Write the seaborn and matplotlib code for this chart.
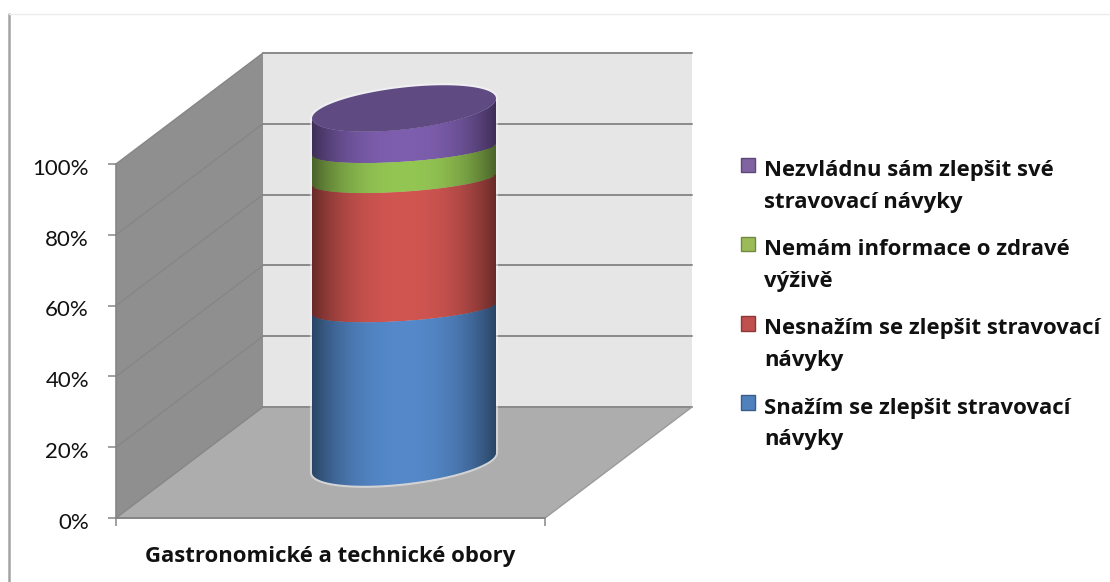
import numpy as np
import pandas as pd
import matplotlib
matplotlib.use("Agg")
import matplotlib.pyplot as plt
from matplotlib.patches import Polygon, Patch, Rectangle
from matplotlib.lines import Line2D
from matplotlib.path import Path
from matplotlib.legend_handler import HandlerPatch
from matplotlib.transforms import ScaledTranslation
import seaborn as sns

# ---- data
category = ["Gastronomické a technické obory"]
series = ["Snažím se zlepšit stravovací\nnávyky",
          "Nesnažím se zlepšit stravovací\nnávyky",
          "Nemám informace o zdravé\nvýživě",
          "Nezvládnu sám zlepšit své\nstravovací návyky"]
values = [43.5, 36.5, 8.5, 11.5]
y_ticks = [0, 20, 40, 60, 80, 100]
y_ticklabels = ["0%", "20%", "40%", "60%", "80%", "100%"]
body_colors = ["#5488C8", "#D05551", "#93C553", "#7D5EAE"]
legend_colors = ["#4F81BD", "#C0504D", "#9BBB59", "#8064A2"]
legend_edges = ["#385D8A", "#8C3836", "#71893F", "#5C4776"]

sns.set_theme(style="white")
plt.rcParams["font.family"] = ["Lato", "DejaVu Sans"]

W, H = 1110, 582
fig = plt.figure(figsize=(W / 100, H / 100), dpi=100, facecolor="white")

def rect(x0, ybottom, w, h):
    return [x0 / W, (H - ybottom) / H, w / W, h / H]

PLOT_W, PLOT_H = 429, 354
DX_PX, DY_PX = 147, 111
ax = fig.add_axes(rect(116, 518, PLOT_W, PLOT_H), facecolor="none")
axm = fig.add_axes(rect(116 + DX_PX / 2, 518 - DY_PX / 2, PLOT_W, PLOT_H), facecolor="none")
for a in (ax, axm):
    a.set_xlim(-0.5, 0.5)
    a.set_ylim(0, 100)

dx = DX_PX / PLOT_W
dy = DY_PX / PLOT_H * 100
L, R = -0.5, 0.5

# walls and floor
ax.add_patch(Polygon([(L, 0), (L + dx, dy), (R + dx, dy), (R, 0)], fc="#ADADAD", ec="none", clip_on=False, zorder=1))
ax.add_patch(Polygon([(L, 0), (L + dx, dy), (L + dx, 100 + dy), (L, 100)], fc="#8F8F8F", ec="none", clip_on=False, zorder=1))
ax.add_patch(Polygon([(L + dx, dy), (R + dx, dy), (R + dx, 100 + dy), (L + dx, 100 + dy)], fc="#E6E6E6", ec="none", clip_on=False, zorder=1))
for t in y_ticks:
    ax.plot([L + dx, R + dx], [t + dy, t + dy], color="#8A8A8A", lw=1.4, clip_on=False, zorder=2)
    ax.plot([L, L + dx], [t, t + dy], color="#868686", lw=1.0, clip_on=False, zorder=2)
ax.plot([L, R], [0, 0], color="#8A8A8A", lw=1.4, clip_on=False, zorder=2)
ax.plot([R, R + dx], [0, dy], color="#9A9A9A", lw=1.0, clip_on=False, zorder=2)

# axes dressing
for s in ("top", "right"):
    ax.spines[s].set_visible(False)
for s in ("left", "bottom"):
    ax.spines[s].set_color("#868686")
    ax.spines[s].set_linewidth(1.2)
    ax.spines[s].set_zorder(3)

# cylinder: real stacked bars from seaborn, trimmed to curved outlines
df = pd.DataFrame({"cat": category * len(series), "series": series, "value": values})
df["bottom"] = df["value"].cumsum() - df["value"]
BAR_W = 184 / PLOT_W
UNIT = 100 / PLOT_H
OUTER = (21 * UNIT, 10 * UNIT)
INNER = (12.5 * UNIT, 6 * UNIT)
tt = np.linspace(0, np.pi, 90)
top = float(np.sum(values))

def arc(v, shape):
    b, tilt = shape
    return np.column_stack([BAR_W / 2 * np.cos(tt), v + tilt * np.cos(tt) - b * np.sin(tt)])

def edge(v):
    return arc(v, OUTER if v <= 0 or v >= top else INNER)

def band(v0, v1):
    return np.vstack([edge(v0)[::-1], edge(v1)])

outline = band(0, top)
outline_path = Path(np.vstack([outline, outline[:1]]), closed=True)

# faint pale halo around the solid
tfull = np.linspace(0, 2 * np.pi, 180)
cap = np.column_stack([BAR_W / 2 * np.cos(tfull), top + OUTER[1] * np.cos(tfull) - OUTER[0] * np.sin(tfull)])
axm.add_patch(Polygon(outline, fc="none", ec="#F4F4F8", lw=3, alpha=0.55, clip_on=False, zorder=3.5))
axm.add_patch(Polygon(cap, fc="none", ec="#F4F4F8", lw=3, alpha=0.7, clip_on=False, zorder=3.5))

for (_, row), col in zip(df.iterrows(), body_colors):
    sns.barplot(data=df[df["series"] == row["series"]], x="cat", y="value", bottom=row["bottom"],
                width=BAR_W, color=col, saturation=1, errorbar=None, ax=axm, zorder=4, linewidth=0)
    bar = axm.patches[-1]
    upper = row["bottom"] + row["value"]
    poly = Polygon(band(row["bottom"], upper), fc=col, ec="none", clip_on=False, zorder=3.9)
    axm.add_patch(poly)
    bar.set_clip_path(poly.get_path(), axm.transData)
    # brighter lip just under the upper edge
    if upper < top:
        lip = arc(upper - 1.0, INNER)
        ln, = axm.plot(lip[:, 0], lip[:, 1], color=col, lw=4, alpha=0.5, zorder=4.1)
        ln.set_clip_box(fig.bbox)
        ln.set_clip_path(outline_path, axm.transData)

shade = np.zeros((1, 256, 4))
u = np.linspace(-1, 1, 256)
shade[0, :, 3] = 0.5 * np.abs(u) ** 2.4
img = axm.imshow(shade, extent=[-BAR_W / 2, BAR_W / 2, -15, 110], aspect="auto", zorder=5)
img.set_clip_box(fig.bbox)
img.set_clip_path(outline_path, axm.transData)

axm.add_patch(Polygon(cap, fc="#5F4B82", ec="none", clip_on=False, zorder=6))
axm.set_xlim(-0.5, 0.5)
axm.set_ylim(0, 100)
axm.axis("off")

# ticks
ax.set_yticks(y_ticks, y_ticklabels)
ax.tick_params(axis="y", length=5.5, width=1.1, color="#868686", labelsize=16, labelcolor="#111111", pad=14, left=True)
for lb in ax.get_yticklabels():
    lb.set_transform(lb.get_transform() + ScaledTranslation(0, -2 / 72, fig.dpi_scale_trans))
ax.set_xticks([0], category)
ax.set_xticks([L, R], minor=True)
ax.tick_params(axis="x", which="major", length=0, pad=20, labelsize=15.9, labelcolor="#111111")
ax.tick_params(axis="x", which="minor", length=5.5, width=1.1, color="#868686", bottom=True)
for lb in ax.get_xticklabels():
    lb.set_fontweight("bold")
    lb.set_fontfamily("Open Sans")

# legend
class FirstLineHandle(HandlerPatch):
    def create_artists(self, legend, orig, xd, yd, width, height, fontsize, trans):
        r = Rectangle((0, 16), 10.4, 10.4, fc=orig.get_facecolor(), ec=orig.get_edgecolor(), lw=1.0, transform=trans)
        return [r]

handles = [Patch(fc=c, ec=e) for c, e in zip(legend_colors, legend_edges)][::-1]
labels = series[::-1]
leg = fig.legend(handles, labels, loc="upper left", bbox_to_anchor=(741 / W, 1 - 160 / H), bbox_transform=fig.transFigure,
                 frameon=False, handler_map={Patch: FirstLineHandle()}, handlelength=0.65, handleheight=0.65,
                 handletextpad=0.4, labelspacing=1.2, borderpad=0, borderaxespad=0,
                 prop={"family": "Open Sans", "weight": "bold", "size": 15.9})
for t in leg.get_texts():
    t.set_linespacing(1.67)
    t.set_color("#111111")

# outer frame
fig.add_artist(Line2D([9 / W, 9 / W], [0, 1 - 14 / H], color="#A3A3A3", lw=1.8))
fig.add_artist(Line2D([9 / W, 1], [1 - 14 / H, 1 - 14 / H], color="#ECECEC", lw=1.0))

fig.savefig("out.png", dpi=100, facecolor="white")
